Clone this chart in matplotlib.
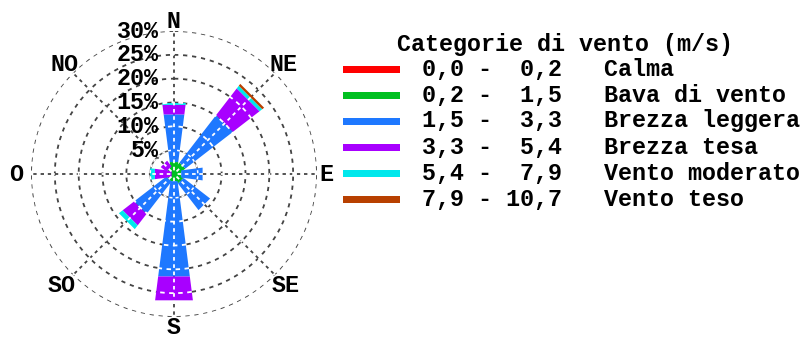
import numpy as np
import matplotlib
matplotlib.use("Agg")
import matplotlib.pyplot as plt
from matplotlib.patches import Rectangle

# wind directions (clockwise from north)
directions = ['N', 'NE', 'E', 'SE', 'S', 'SO', 'O', 'NO']
angles_deg = [0, 45, 90, 135, 180, 225, 270, 315]

# wind categories
cat_lo = ['0,0', '0,2', '1,5', '3,3', '5,4', '7,9']
cat_hi = ['0,2', '1,5', '3,3', '5,4', '7,9', '10,7']
cat_names = ['Calma', 'Bava di vento', 'Brezza leggera', 'Brezza tesa',
             'Vento moderato', 'Vento teso']
cat_colors = ['#ff0000', '#00c020', '#1e78ff', '#a800ff', '#00e8ec', '#b84000']

# frequency (%) of each category per direction, order N NE E SE S SO O NO
calma     = [0.0, 0.0, 0.0, 0.0, 0.0, 0.0, 0.0, 0.0]
bava      = [2.5, 2.5, 1.5, 2.0, 1.5, 1.5, 0.5, 1.5]
leggera   = [10.0, 12.5, 4.5, 7.0, 20.0, 8.5, 0.0, 0.0]
tesa      = [2.0, 7.0, 0.0, 0.0, 5.0, 3.0, 3.5, 1.5]
moderato  = [0.4, 0.7, 0.0, 0.0, 0.0, 1.0, 1.0, 0.0]
teso      = [0.0, 0.5, 0.0, 0.0, 0.0, 0.0, 0.0, 0.0]
series = [calma, bava, leggera, tesa, moderato, teso]

ring_vals = [5, 10, 15, 20, 25, 30]

fnt = dict(family='Liberation Mono', weight='bold', size=16.8)

fig = plt.figure(figsize=(8.03, 3.38), dpi=100)
ax = fig.add_axes([31/803, 21/338, 286/803, 286/338], projection='polar')
ax.set_theta_zero_location('N')
ax.set_theta_direction(-1)
ax.set_ylim(0, 30)
ax.grid(False)
ax.set_xticks([])
ax.set_yticks([])
ax.spines['polar'].set_visible(False)
ax.patch.set_alpha(0)


def half_w(r):
    # bars widen linearly with distance from the centre (in % units)
    return 0.57 + 0.128 * r


def segment(ax, a, r0, r1, col):
    rs = np.linspace(r0, r1, 12)
    hw = half_w(rs)
    rr = np.sqrt(rs**2 + hw**2)
    off = np.arctan2(hw, rs)
    th = np.concatenate([a - off, (a + off)[::-1]])
    rad = np.concatenate([rr, rr[::-1]])
    ax.fill(th, rad, color=col, lw=0, zorder=2)


theta = np.radians(angles_deg)
bottom = np.zeros(len(directions))
for vals, col in zip(series, cat_colors):
    for i, v in enumerate(vals):
        if v > 0:
            segment(ax, theta[i], bottom[i], bottom[i] + v, col)
    bottom += np.array(vals)

# grid: dark dashes below the bars, white dashes in the gaps above the bars
circ = np.linspace(0, 2*np.pi, 400)
for r in ring_vals:
    if r == 5:
        ax.plot(circ, [r]*len(circ), color='#555555', lw=1.1, zorder=1)
        ax.plot(circ, [r]*len(circ), color='white', lw=1.1, zorder=3,
                linestyle=(2, (2, 2)))
        continue
    ax.plot(circ, [r]*len(circ), color='#444444', lw=1.3, zorder=1,
            linestyle=(0, (2.5, 2.5)))
    ax.plot(circ, [r]*len(circ), color='white', lw=1.3, zorder=3,
            linestyle=(2.5, (2.5, 2.5)))
for a in theta:
    ax.plot([a, a], [0, 30.5], color='#444444', lw=1.3, zorder=1,
            linestyle=(0, (2, 2)))
    ax.plot([a, a], [0, 30.5], color='white', lw=1.3, zorder=3,
            linestyle=(2, (2, 2)))

# direction labels
label_r = [32.0, 32.5, 32.0, 33.2, 32.2, 33.2, 33.2, 32.5]
for a, lab, r in zip(theta, directions, label_r):
    ax.text(a, r, lab, ha='center', va='center', clip_on=False, zorder=5, **fnt)

# percentage labels
for r in ring_vals:
    ax.annotate(f'{r}%', xy=(0, r), xytext=(-11, 0), textcoords='offset points',
                ha='right', va='center', zorder=5, **fnt)

# legend (pixel coordinates)
lg = fig.add_axes([0, 0, 1, 1])
lg.set_xlim(0, 803)
lg.set_ylim(338, 0)
lg.axis('off')
lg.patch.set_alpha(0)
lg.text(397, 44, 'Categorie di vento (m/s)', ha='left', va='center', **fnt)
row_y = [69, 95, 121, 147, 173, 199]
for y, lo, hi, name, col in zip(row_y, cat_lo, cat_hi, cat_names, cat_colors):
    lg.add_patch(Rectangle((343, y - 3.5), 57, 7, color=col, lw=0))
    lg.text(422, y, f'{lo:>3} - {hi:>4}   {name}', ha='left', va='center', **fnt)

fig.savefig('out.png', dpi=100)
